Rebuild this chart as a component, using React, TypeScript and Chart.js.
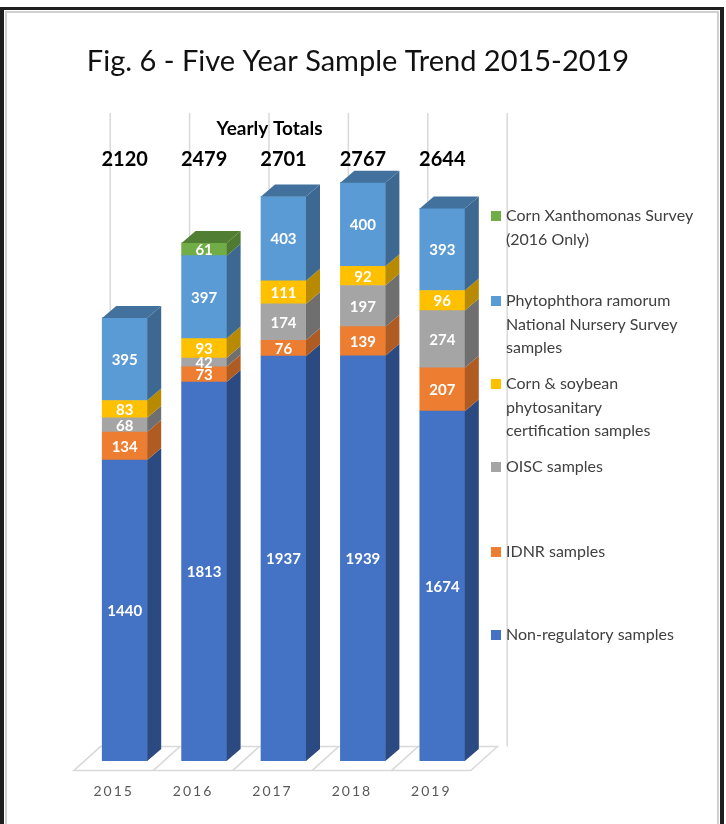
import { useEffect, useRef } from "react";
import { Chart, registerables } from "chart.js";

Chart.register(...registerables);

const titleText = "Fig. 6 - Five Year Sample Trend 2015-2019";
const totalsHeading = "Yearly Totals";
const years = ["2015", "2016", "2017", "2018", "2019"];
const nonRegulatory = [1440, 1813, 1937, 1939, 1674];
const idnr = [134, 73, 76, 139, 207];
const oisc = [68, 42, 174, 197, 274];
const cornSoy = [83, 93, 111, 92, 96];
const phytophthora = [395, 397, 403, 400, 393];
const xanthomonas = [0, 61, 0, 0, 0];
const yearlyTotals = [2120, 2479, 2701, 2767, 2644];

const seriesLabels = [
  ["Non-regulatory samples"],
  ["IDNR samples"],
  ["OISC samples"],
  ["Corn & soybean", "phytosanitary", "certification samples"],
  ["Phytophthora ramorum", "National Nursery Survey", "samples"],
  ["Corn Xanthomonas Survey", "(2016 Only)"],
];
const seriesValues = [nonRegulatory, idnr, oisc, cornSoy, phytophthora, xanthomonas];
const frontColors = ["#4472C4", "#ED7D31", "#A5A5A5", "#FFC000", "#5B9BD5", "#70AD47"];
const sideColors = ["#2C4A82", "#B05B22", "#6F6F6F", "#B88A00", "#3D6891", "#4E7A31"];
const topColors = ["#2F528F", "#C0662A", "#8A8A8A", "#C99700", "#41719C", "#507F33"];
// legend item vertical centres (first line), top item first
const legendY = [216, 301, 384, 467, 552, 635];

const DX = 14;
const DY = -12;

const threeD = {
  id: "threeD",
  beforeDraw(chart: any) {
    chart.ctx.letterSpacing = "2px";
  },
  beforeDatasetsDraw(chart: any) {
    const ctx = chart.ctx;
    ctx.letterSpacing = "0px";
    const xs = chart.scales.x;
    const { bottom, top } = chart.chartArea;
    const n = years.length;
    const step = xs.getPixelForValue(1) - xs.getPixelForValue(0);
    const fx0 = xs.getPixelForValue(0) - step / 2 - 0.8 * DX;
    const fy = bottom - 0.8 * DY;
    const gdx = 2.6 * DX;
    const fdx = 1.9 * DX;
    const fdy = 2.0 * DY;
    ctx.save();
    ctx.strokeStyle = "#d9d9d9";
    ctx.lineWidth = 1.5;
    // back wall vertical grid lines
    for (let i = 0; i <= n; i++) {
      const x = fx0 + i * step + gdx;
      ctx.beginPath();
      ctx.moveTo(x, fy + fdy);
      ctx.lineTo(x, top - 21);
      ctx.stroke();
    }
    // floor
    ctx.beginPath();
    ctx.moveTo(fx0, fy);
    ctx.lineTo(fx0 + n * step, fy);
    ctx.lineTo(fx0 + n * step + fdx, fy + fdy);
    ctx.lineTo(fx0 + fdx, fy + fdy);
    ctx.closePath();
    ctx.stroke();
    for (let i = 1; i < n; i++) {
      ctx.beginPath();
      ctx.moveTo(fx0 + i * step, fy);
      ctx.lineTo(fx0 + i * step + fdx, fy + fdy);
      ctx.stroke();
    }
    ctx.restore();
  },
  afterDatasetsDraw(chart: any) {
    const ctx = chart.ctx;
    ctx.save();
    const nDs = chart.data.datasets.length;
    for (let i = 0; i < years.length; i++) {
      let topDs = -1;
      for (let d = 0; d < nDs; d++) if (seriesValues[d][i] > 0) topDs = d;
      for (let d = 0; d < nDs; d++) {
        const v = seriesValues[d][i];
        if (!(v > 0)) continue;
        const el = chart.getDatasetMeta(d).data[i];
        const { x, y, base, width } = el.getProps(["x", "y", "base", "width"], true);
        const r = x + width / 2;
        const l = x - width / 2;
        ctx.fillStyle = sideColors[d];
        ctx.beginPath();
        ctx.moveTo(r, y);
        ctx.lineTo(r + DX, y + DY);
        ctx.lineTo(r + DX, base + DY);
        ctx.lineTo(r, base);
        ctx.closePath();
        ctx.fill();
        if (d === topDs) {
          ctx.fillStyle = topColors[d];
          ctx.beginPath();
          ctx.moveTo(l, y);
          ctx.lineTo(l + DX, y + DY);
          ctx.lineTo(r + DX, y + DY);
          ctx.lineTo(r, y);
          ctx.closePath();
          ctx.fill();
        }
      }
    }
    // data labels
    ctx.fillStyle = "#ffffff";
    ctx.font = "bold 15px Lato";
    ctx.textAlign = "center";
    ctx.textBaseline = "middle";
    for (let d = 0; d < nDs; d++) {
      for (let i = 0; i < years.length; i++) {
        const v = seriesValues[d][i];
        if (!(v > 0)) continue;
        const el = chart.getDatasetMeta(d).data[i];
        const { x, y, base } = el.getProps(["x", "y", "base"], true);
        ctx.fillText(String(v), x, (y + base) / 2 + 1);
      }
    }
    ctx.restore();
  },
  afterDraw(chart: any) {
    const ctx = chart.ctx;
    const xs = chart.scales.x;
    const { right, top } = chart.chartArea;
    ctx.save();
    ctx.letterSpacing = "0px";
    ctx.textBaseline = "middle";
    // title
    ctx.fillStyle = "#111111";
    ctx.font = "29px Lato";
    ctx.textAlign = "center";
    ctx.fillText(titleText, 358, 62);
    // totals
    ctx.fillStyle = "#000000";
    ctx.font = "bold 19px Lato";
    ctx.fillText(totalsHeading, xs.getPixelForValue(2) - 14, top - 5);
    ctx.font = "bold 20px Lato";
    for (let i = 0; i < years.length; i++) {
      ctx.fillText(String(yearlyTotals[i]), xs.getPixelForValue(i), top + 26);
    }
    // legend
    ctx.textAlign = "left";
    ctx.font = "16px Lato";
    const nDs = chart.data.datasets.length;
    for (let k = 0; k < nDs; k++) {
      const d = nDs - 1 - k;
      const yy = legendY[k];
      ctx.fillStyle = frontColors[d];
      ctx.fillRect(right + 9, yy - 5, 10, 10);
      ctx.fillStyle = "#404040";
      seriesLabels[d].forEach((line, j) => {
        ctx.fillText(line, right + 24, yy + j * 23.5);
      });
    }
    ctx.restore();
  },
};

export default function App() {
  const ref = useRef<HTMLCanvasElement>(null);
  useEffect(() => {
    const canvas = ref.current!;
    const chart = new Chart(canvas, {
      type: "bar",
      data: {
        labels: years,
        datasets: seriesValues.map((vals, d) => ({
          label: seriesLabels[d].join(" "),
          data: vals,
          backgroundColor: frontColors[d],
          borderWidth: 0,
          barThickness: 45,
        })),
      },
      options: {
        animation: false,
        responsive: false,
        devicePixelRatio: 1,
        layout: { padding: { left: 85, right: 244, top: 134, bottom: 23 } },
        plugins: {
          legend: { display: false },
          title: { display: false },
          tooltip: { enabled: false },
        },
        scales: {
          x: {
            stacked: true,
            grid: { display: false, drawTicks: false },
            border: { display: false },
            ticks: {
              color: "#595959",
              font: { family: "Lato", size: 14 },
              padding: 22,
              labelOffset: -11,
            },
            afterFit: (s: any) => {
              s.height = 40;
            },
          },
          y: {
            stacked: true,
            display: false,
            min: 0,
            max: 3000,
          },
        },
      },
      plugins: [threeD],
    });
    document.fonts?.load("16px Lato").then(() => chart.update());
    return () => chart.destroy();
  }, []);
  return (
    <div
      style={{
        position: "absolute",
        left: 0,
        top: 0,
        width: 726,
        height: 824,
        background: "#fff",
        overflow: "hidden",
      }}
    >
      <div
        style={{
          position: "absolute",
          left: 0,
          top: 7,
          width: 716,
          height: 840,
          borderLeft: "4px solid #1f1f1f",
          borderTop: "3px solid #1f1f1f",
          borderRight: "4px solid #1f1f1f",
        }}
      />
      <div
        style={{
          position: "absolute",
          left: 5,
          top: 11,
          width: 710,
          height: 840,
          border: "2px solid #d0d0d0",
        }}
      />
      <canvas
        ref={ref}
        width={726}
        height={824}
        style={{ position: "absolute", left: 0, top: 0 }}
      />
    </div>
  );
}
